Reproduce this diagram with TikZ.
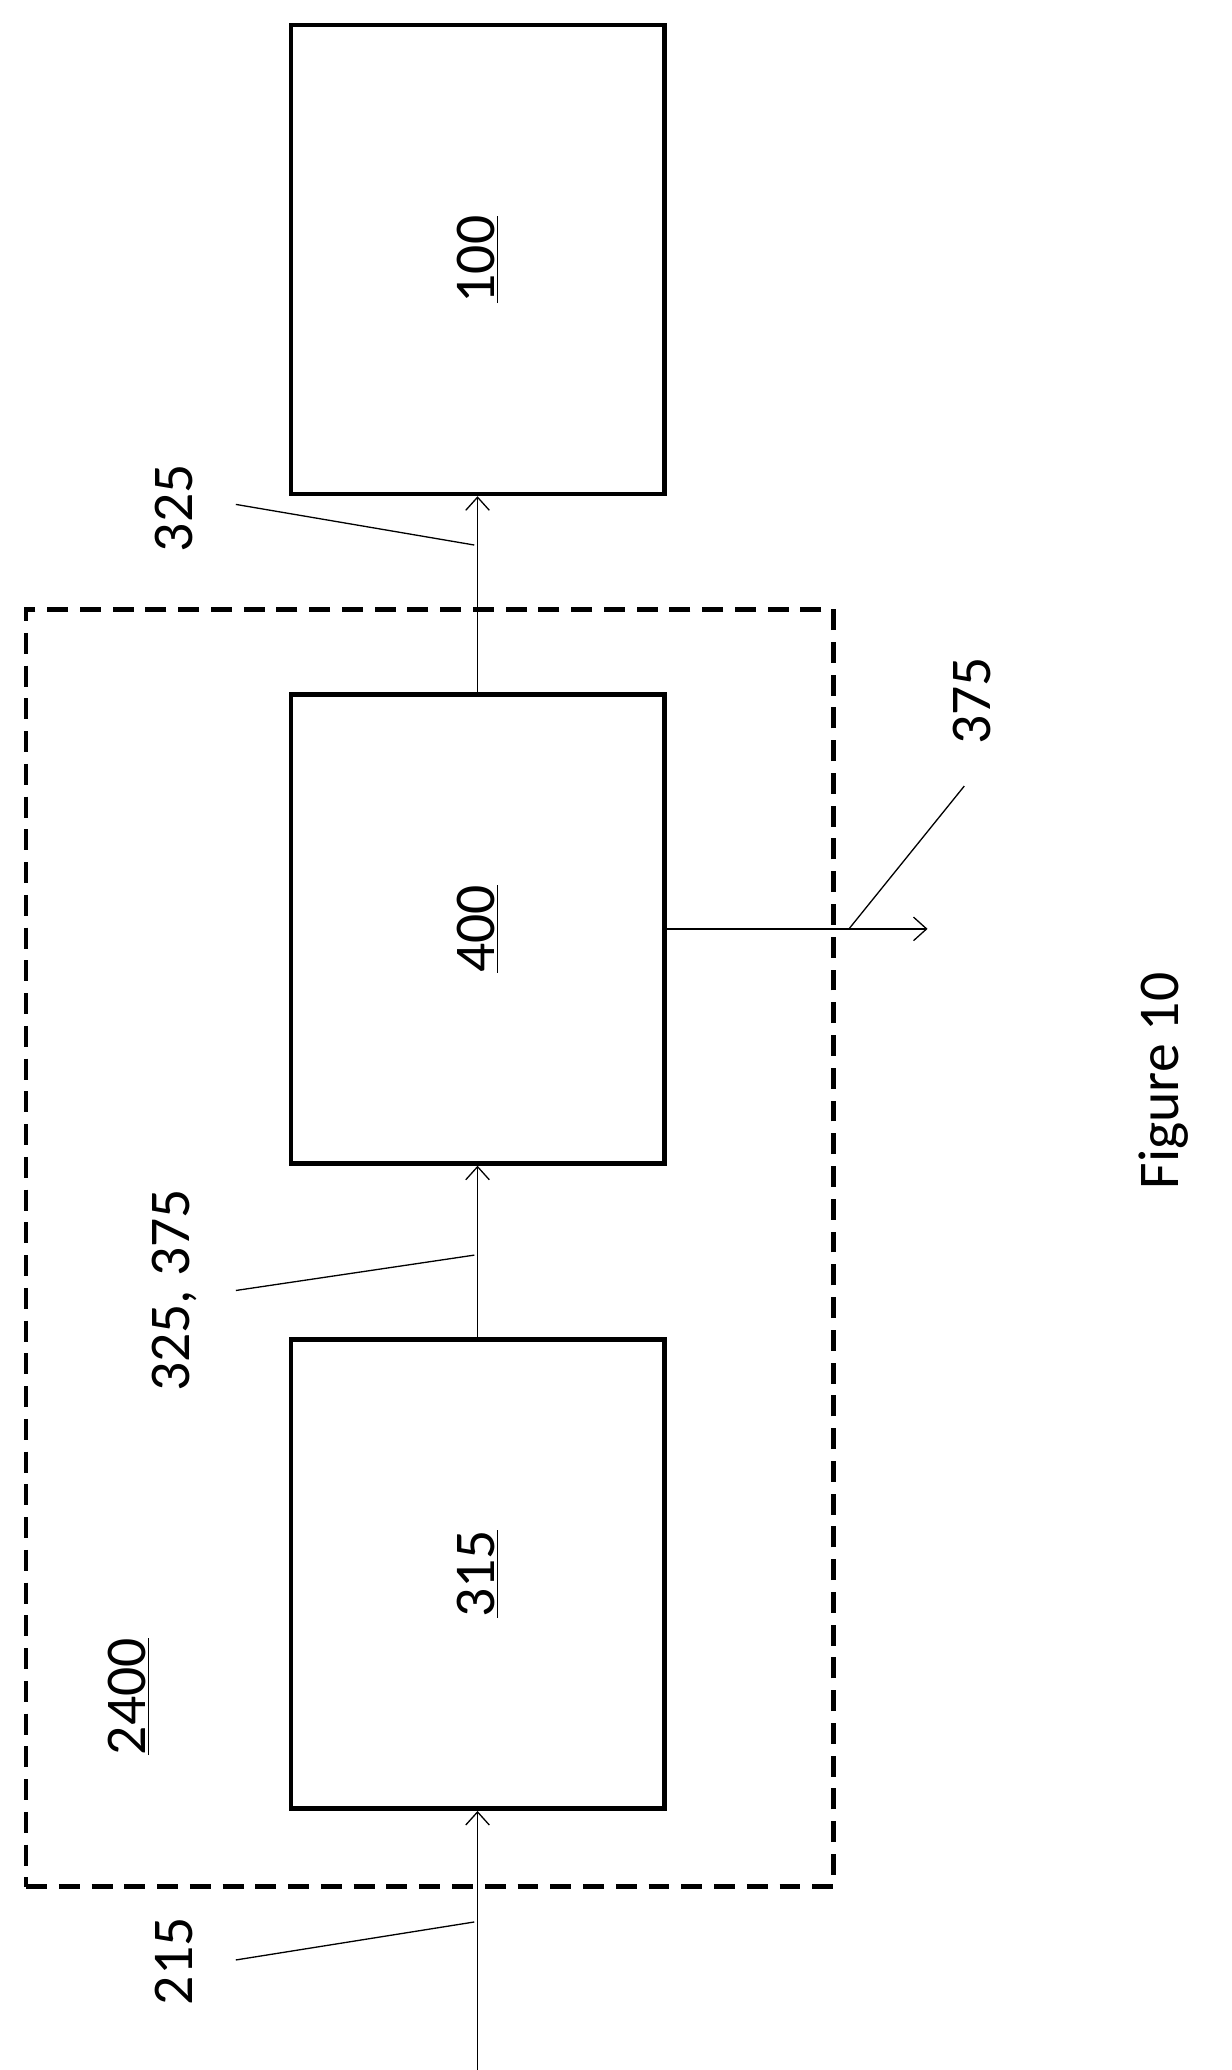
\documentclass[tikz,border=0pt]{standalone}
\usepackage{fontspec}
\setmainfont{Carlito}
\usetikzlibrary{arrows.meta}
\begin{document}
\begin{tikzpicture}[x=1pt,y=-1pt,
  blk/.style={draw,line width=3.5pt,minimum width=285pt,minimum height=358pt,inner sep=0pt},
  lbl/.style={rotate=90,font=\fontsize{44}{50}\selectfont},
  con/.style={line width=1pt,-{Straight Barb[length=10pt,width=18pt]}},
  lead/.style={line width=1pt}]
\useasboundingbox (0,0) rectangle (940,1580);
\node[blk] (b100) at (364.5,198) {};
\node[blk] (b400) at (364.5,709) {};
\node[blk] (b315) at (364.5,1201.5) {};
\node[lbl] at (b100) {\underline{100}};
\node[lbl] at (b400) {\underline{400}};
\node[lbl] at (b315) {\underline{315}};
\node[draw,dashed,line width=3.5pt,dash pattern=on 16pt off 9pt,minimum width=616pt,minimum height=975pt,inner sep=0pt] (dbox) at (328,952.5) {};
\node[lbl] (t2400) at (98,1295) {\underline{2400}};
\coordinate (in) at (364.5,1580);
\draw[con] (in) -- (b315.south);
\draw[con] (b315.north) -- (b400.south);
\draw[con] (b400.north) -- (b100.south);
\coordinate (out) at (708,709);
\draw[con] (b400.east) -- (out);
\node[lbl] (t325) at (133,388) {325};
\node[lbl] (t325b) at (133,985) {325, 375};
\node[lbl] (t215) at (133,1497) {215};
\node[lbl] (t375) at (742,535) {375};
\coordinate (p1) at (180,385); \coordinate (q1) at (362,416);
\coordinate (p2) at (180,985); \coordinate (q2) at (362,958);
\coordinate (p3) at (180,1496); \coordinate (q3) at (362,1467);
\coordinate (p4) at (736,600); \coordinate (q4) at (648,709);
\draw[lead] (p1)--(q1); \draw[lead] (p2)--(q2); \draw[lead] (p3)--(q3); \draw[lead] (p4)--(q4);
\node[lbl] (fig) at (888,825) {Figure 10};
\end{tikzpicture}
\end{document}
